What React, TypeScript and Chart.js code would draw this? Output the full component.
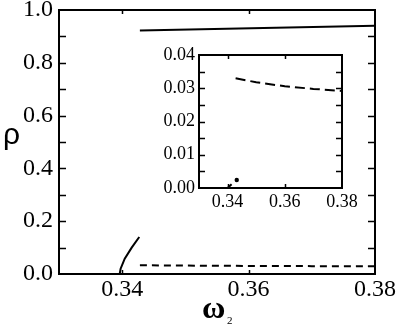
import React, { useEffect, useRef } from "react";
import { Chart, registerables } from "chart.js";

Chart.register(...registerables);

// ---- data ----
const mainXTicks = [0.34, 0.36, 0.38];
const mainYTicks = [0, 0.2, 0.4, 0.6, 0.8, 1.0];
const mainXMarks = [0.34, 0.36];
const mainYMarks = [0.1, 0.2, 0.3, 0.4, 0.5, 0.6, 0.7, 0.8, 0.9];

const upperX = [0.3428, 0.38];
const upperY = [0.922, 0.94];

const riseX = [0.3396, 0.33975, 0.3404, 0.3415, 0.3427];
const riseY = [0.0, 0.02, 0.058, 0.1, 0.14];

const dashX = [0.3428, 0.35, 0.36, 0.37, 0.38];
const dashY = [0.033, 0.0318, 0.0306, 0.0298, 0.0292];

const insetXTicks = [0.34, 0.36, 0.38];
const insetYTicks = [0, 0.01, 0.02, 0.03, 0.04];
const insetXMarks = [0.34, 0.36];
const insetYMarks = [0.005, 0.01, 0.015, 0.02, 0.025, 0.03, 0.035];

const insetRiseX = [0.34, 0.3414];
const insetRiseY = [0.0, 0.0011];
const insetDotX = [0.3432];
const insetDotY = [0.0024];

const pts = (xs: number[], ys: number[]) => xs.map((x, i) => ({ x, y: ys[i] }));

const SERIF = "'Liberation Serif', serif";
Chart.defaults.font.family = SERIF;

function frameAndTicks(xMarks: number[], yMarks: number[], xLen: number, yLen: number) {
  return {
    id: "frameTicks",
    afterDatasetsDraw(chart: any) {
      const { ctx, chartArea: a, scales } = chart;
      ctx.save();
      ctx.strokeStyle = "#000";
      ctx.lineWidth = 2;
      ctx.strokeRect(a.left, a.top, a.right - a.left, a.bottom - a.top);
      ctx.lineWidth = 1.5;
      ctx.beginPath();
      xMarks.forEach((v) => {
        const px = Math.round(scales.x.getPixelForValue(v)) + 0.5;
        ctx.moveTo(px, a.bottom);
        ctx.lineTo(px, a.bottom - xLen);
        ctx.moveTo(px, a.top);
        ctx.lineTo(px, a.top + xLen);
      });
      yMarks.forEach((v) => {
        const py = Math.round(scales.y.getPixelForValue(v)) + 0.5;
        ctx.moveTo(a.left, py);
        ctx.lineTo(a.left + yLen, py);
        ctx.moveTo(a.right, py);
        ctx.lineTo(a.right - yLen, py);
      });
      ctx.stroke();
      ctx.restore();
    },
  };
}

const titlePlugin = {
  id: "titles",
  afterDraw(chart: any) {
    const { ctx } = chart;
    ctx.save();
    ctx.fillStyle = "#000";
    ctx.textBaseline = "alphabetic";
    ctx.textAlign = "left";
    ctx.font = "30px 'Liberation Sans', sans-serif";
    ctx.fillText("ρ", 3, 144);
    ctx.font = "bold 32px " + SERIF;
    ctx.fillText("ω", 202, 318);
    ctx.font = "11px " + SERIF;
    ctx.fillText("2", 227, 324);
    ctx.restore();
  },
};

const noPadX = (h: number) => (s: any) => {
  s.height = h;
  s.paddingLeft = 0;
  s.paddingRight = 0;
};
const noPadY = (w: number) => (s: any) => {
  s.width = w;
  s.paddingTop = 0;
  s.paddingBottom = 0;
};

export default function App() {
  const mainRef = useRef<HTMLCanvasElement>(null);
  const insetRef = useRef<HTMLCanvasElement>(null);

  useEffect(() => {
    const line = (data: any[], dash: number[] = [], width = 2) => ({
      data,
      showLine: true,
      borderColor: "#000",
      backgroundColor: "#000",
      borderWidth: width,
      borderDash: dash,
      pointRadius: 0,
      tension: 0,
    });

    const tickFont = (size: number) => ({ family: SERIF, size, weight: "normal", style: "normal" });

    const main = new Chart(mainRef.current!, {
      type: "scatter",
      data: {
        datasets: [
          line(pts(upperX, upperY)),
          line(pts(riseX, riseY)),
          line(pts(dashX, dashY), [7, 5]),
        ],
      },
      options: {
        responsive: false,
        animation: false,
        devicePixelRatio: 1,
        layout: { padding: { top: 10, right: 23, left: 0, bottom: 0 } },
        plugins: { legend: { display: false }, tooltip: { enabled: false } },
        scales: {
          x: {
            type: "linear",
            min: 0.33,
            max: 0.38,
            afterBuildTicks: (s: any) => {
              s.ticks = mainXTicks.map((v) => ({ value: v }));
            },
            afterFit: noPadX(53),
            grid: { display: false, drawTicks: false },
            border: { display: false },
            ticks: {
              color: "#000",
              font: tickFont(24),
              padding: 1,
              maxRotation: 0,
              autoSkip: false,
              callback: (v: any) => Number(v).toFixed(2),
            },
          },
          y: {
            type: "linear",
            min: 0,
            max: 1,
            afterBuildTicks: (s: any) => {
              s.ticks = mainYTicks.map((v) => ({ value: v }));
            },
            afterFit: noPadY(59),
            grid: { display: false, drawTicks: false },
            border: { display: false },
            ticks: {
              color: "#000",
              font: tickFont(24),
              padding: 6,
              autoSkip: false,
              callback: (v: any) => Number(v).toFixed(1),
            },
          },
        },
      },
      plugins: [frameAndTicks(mainXMarks, mainYMarks, 4, 7), titlePlugin],
    } as any);

    const inset = new Chart(insetRef.current!, {
      type: "scatter",
      data: {
        datasets: [
          line(pts(dashX, dashY), [10, 5]),
          line(pts(insetRiseX, insetRiseY)),
          { ...line(pts(insetDotX, insetDotY)), showLine: false, pointRadius: 1.2 },
        ],
      },
      options: {
        responsive: false,
        animation: false,
        devicePixelRatio: 1,
        layout: { padding: { top: 10, right: 23, left: 0, bottom: 0 } },
        plugins: { legend: { display: false }, tooltip: { enabled: false } },
        scales: {
          x: {
            type: "linear",
            min: 0.33,
            max: 0.38,
            afterBuildTicks: (s: any) => {
              s.ticks = insetXTicks.map((v) => ({ value: v }));
            },
            afterFit: noPadX(32),
            grid: { display: false, drawTicks: false },
            border: { display: false },
            ticks: {
              color: "#000",
              font: tickFont(18),
              padding: 3,
              maxRotation: 0,
              autoSkip: false,
              callback: (v: any) => Number(v).toFixed(2),
            },
          },
          y: {
            type: "linear",
            min: 0,
            max: 0.04,
            afterBuildTicks: (s: any) => {
              s.ticks = insetYTicks.map((v) => ({ value: v }));
            },
            afterFit: noPadY(49),
            grid: { display: false, drawTicks: false },
            border: { display: false },
            ticks: {
              color: "#000",
              font: tickFont(18),
              padding: 4,
              autoSkip: false,
              callback: (v: any) => Number(v).toFixed(2),
            },
          },
        },
      },
      plugins: [frameAndTicks(insetXMarks, insetYMarks, 4, 6)],
    } as any);

    return () => {
      main.destroy();
      inset.destroy();
    };
  }, []);

  return (
    <div style={{ position: "fixed", left: 0, top: 0, width: 398, height: 327, background: "#fff" }}>
      <canvas ref={mainRef} width={398} height={327} style={{ position: "absolute", left: 0, top: 0 }} />
      <canvas ref={insetRef} width={215} height={175} style={{ position: "absolute", left: 150, top: 45 }} />
    </div>
  );
}
